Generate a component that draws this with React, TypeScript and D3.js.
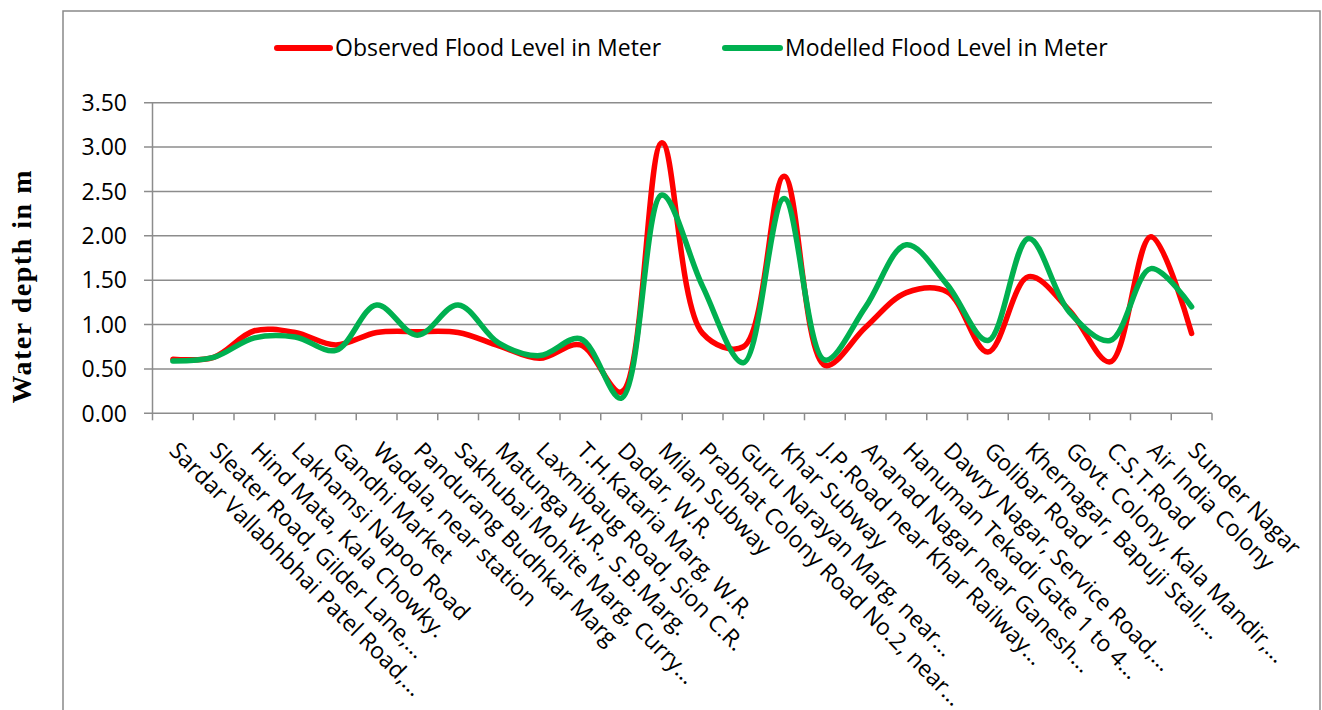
import React from "react";
import * as d3 from "d3";

const categories: string[] = [
  "Sardar Vallabhbhai Patel Road,…",
  "Sleater Road, Gilder Lane,…",
  "Hind Mata, Kala Chowky.",
  "Lakhamsi Napoo Road",
  "Gandhi Market",
  "Wadala, near station",
  "Pandurang Budhkar Marg",
  "Sakhubai Mohite Marg, Curry…",
  "Matunga W.R., S.B.Marg.",
  "Laxmibaug Road, Sion C.R.",
  "T.H.Kataria Marg, W.R.",
  "Dadar, W.R.",
  "Milan Subway",
  "Prabhat Colony Road No.2, near…",
  "Guru Narayan Marg, near…",
  "Khar Subway",
  "J.P.Road near Khar Railway…",
  "Ananad Nagar near Ganesh…",
  "Hanuman Tekadi Gate 1 to 4…",
  "Dawry Nagar, Service Road,…",
  "Golibar Road",
  "Khernagar, Bapuji Stall,…",
  "Govt. Colony, Kala Mandir,…",
  "C.S.T.Road",
  "Air India Colony",
  "Sunder Nagar",
];

const observed: number[] = [
  0.61, 0.63, 0.93, 0.91, 0.77, 0.91, 0.92, 0.91, 0.76, 0.62, 0.77, 0.24, 3.05,
  0.9, 0.75, 2.67, 0.54, 0.97, 1.36, 1.37, 0.69, 1.54, 1.16, 0.58, 1.99, 0.9,
];

const modelled: number[] = [
  0.59, 0.63, 0.85, 0.86, 0.71, 1.22, 0.88, 1.22, 0.79, 0.65, 0.84, 0.17, 2.46,
  1.43, 0.57, 2.42, 0.6, 1.2, 1.9, 1.45, 0.82, 1.97, 1.14, 0.82, 1.63, 1.2,
];

const yTicks: number[] = [0, 0.5, 1, 1.5, 2, 2.5, 3, 3.5];

const seriesNames = ["Observed Flood Level in Meter", "Modelled Flood Level in Meter"];
const seriesColors = ["#FF0000", "#00B050"];

const W = 1322;
const H = 710;
const FONT = "'Open Sans', 'Noto Sans', sans-serif";

export default function App() {
  const left = 152.5;
  const right = 1212;
  const top = 102.7;
  const bottom = 413.3;

  const x = d3.scaleBand<string>().domain(categories).range([left, right]).padding(0);
  const y = d3.scaleLinear().domain([0, 3.5]).range([bottom, top]);
  const cx = (i: number) => (x(categories[i]) as number) + x.bandwidth() / 2;

  const line = d3
    .line<number>()
    .x((_, i) => cx(i))
    .y((d) => y(d))
    .curve(d3.curveCatmullRom.alpha(0.5));

  const series = [observed, modelled];
  const boundaries = d3.range(categories.length + 1).map((i) => left + i * x.bandwidth());

  return (
    <svg
      width={W}
      height={H}
      style={{ position: "absolute", left: 0, top: 0, display: "block", background: "#fff" }}
    >
      <rect x={0} y={0} width={W} height={H} fill="#fff" />
      {/* chart frame */}
      <rect x={63} y={11} width={1257} height={720} fill="none" stroke="#898989" strokeWidth={1.5} />

      {/* gridlines */}
      {yTicks.map((t) => (
        <line
          key={"g" + t}
          x1={144}
          x2={right}
          y1={y(t)}
          y2={y(t)}
          stroke="#8c8c8c"
          strokeWidth={1.5}
        />
      ))}
      {/* y axis */}
      <line x1={left} x2={left} y1={top} y2={bottom} stroke="#8c8c8c" strokeWidth={1.5} />
      {/* x ticks */}
      {boundaries.map((bx, i) => (
        <line key={"xt" + i} x1={bx} x2={bx} y1={bottom} y2={bottom + 7} stroke="#8c8c8c" strokeWidth={1.5} />
      ))}

      {/* y tick labels */}
      {yTicks.map((t) => (
        <text
          key={"yl" + t}
          x={127}
          y={y(t)}
          dy="0.36em"
          textAnchor="end"
          fontFamily={FONT}
          fontSize={23}
          fill="#000"
        >
          {t.toFixed(2)}
        </text>
      ))}

      {/* y axis title */}
      <text
        transform={`translate(31, 287) rotate(-90)`}
        textAnchor="middle"
        fontFamily="'Liberation Serif', 'DejaVu Serif', serif"
        fontWeight="bold"
        fontSize={28}
        textLength={233}
        lengthAdjust="spacing"
        fill="#000"
      >
        Water depth in m
      </text>

      {/* category labels */}
      {categories.map((c, i) => (
        <text
          key={"c" + i}
          transform={`translate(${cx(i) - 5}, 452) rotate(45)`}
          fontFamily={FONT}
          fontSize={23}
          fill="#000"
        >
          {c}
        </text>
      ))}

      {/* lines */}
      {series.map((s, k) => (
        <path
          key={"s" + k}
          d={line(s) as string}
          fill="none"
          stroke={seriesColors[k]}
          strokeWidth={5.5}
          strokeLinecap="round"
          strokeLinejoin="round"
        />
      ))}

      {/* legend */}
      {[
        { x1: 277, x2: 330, tx: 335 },
        { x1: 725, x2: 780, tx: 785 },
      ].map((l, k) => (
        <g key={"lg" + k}>
          <line x1={l.x1} x2={l.x2} y1={48} y2={48} stroke={seriesColors[k]} strokeWidth={6} strokeLinecap="round" />
          <text x={l.tx} y={48} dy="0.36em" fontFamily={FONT} fontSize={23} fill="#000">
            {seriesNames[k]}
          </text>
        </g>
      ))}
    </svg>
  );
}
